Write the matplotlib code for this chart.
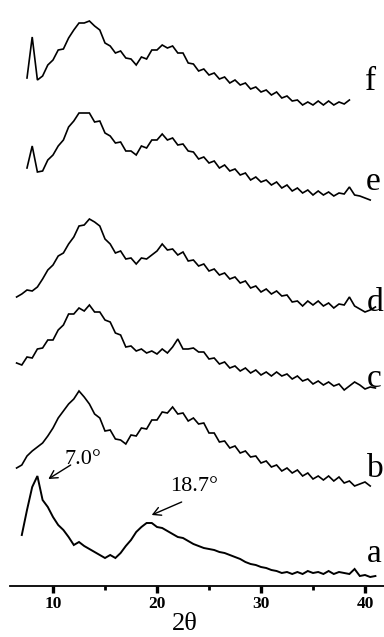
import numpy as np
import matplotlib
matplotlib.use("Agg")
import matplotlib.pyplot as plt

# 2-theta grid (degrees)
two_theta = [6.5, 7.0, 7.5, 8.0, 8.5, 9.0, 9.5, 10.0, 10.5, 11.0,
             11.5, 12.0, 12.5, 13.0, 13.5, 14.0, 14.5, 15.0, 15.5, 16.0,
             16.5, 17.0, 17.5, 18.0, 18.5, 19.0, 19.5, 20.0, 20.5, 21.0,
             21.5, 22.0, 22.5, 23.0, 23.5, 24.0, 24.5, 25.0, 25.5, 26.0,
             26.5, 27.0, 27.5, 28.0, 28.5, 29.0, 29.5, 30.0, 30.5, 31.0,
             31.5, 32.0, 32.5, 33.0, 33.5, 34.0, 34.5, 35.0, 35.5, 36.0,
             36.5, 37.0, 37.5, 38.0, 38.5, 39.0, 39.5, 40.0, 40.5, 41.0]

# intensities (a.u.) of each pattern
curve_a = [None, 51, 76, 99, 110, 86, 79, 69, 61, 56,
           49, 41, 44, 40, 37, 34, 31, 28, 31, 28,
           33, 40, 46, 54, 59, 63, 63, 59, 58, 55,
           52, 49, 48, 45, 42, 40, 38, 37, 36, 34,
           33, 31, 29, 27, 24, 22, 21, 19, 18, 16,
           15, 13, 14, 12, 14, 12, 15, 13, 14, 12,
           15, 12, 14, 13, 12, 17, 10, 11, 9, 10]
curve_b = [18, 21, 30, 35, 39, 43, 50, 58, 68, 75,
           82, 87, 95, 89, 82, 72, 68, 55, 56, 47,
           46, 42, 51, 50, 58, 57, 66, 66, 74, 73,
           79, 72, 73, 65, 68, 62, 63, 53, 53, 44,
           45, 38, 40, 33, 35, 29, 30, 23, 25, 19,
           21, 15, 18, 13, 16, 10, 13, 7, 10, 6,
           10, 5, 9, 3, 5, 0, 2, 4, 0, None]
curve_c = [33, 31, 39, 38, 47, 48, 56, 56, 66, 71,
           82, 82, 88, 85, 91, 84, 84, 76, 74, 63,
           61, 49, 50, 45, 47, 43, 45, 42, 47, 43,
           49, 57, 47, 47, 48, 44, 44, 37, 38, 32,
           34, 28, 30, 25, 28, 23, 26, 21, 24, 20,
           24, 20, 22, 17, 20, 15, 17, 12, 15, 11,
           14, 10, 12, 6, 10, 14, 11, 7, 9, 8]
curve_d = [19, 22, 26, 25, 29, 37, 46, 51, 60, 63,
           72, 79, 90, 91, 97, 94, 90, 77, 72, 63,
           65, 57, 58, 52, 58, 57, 61, 65, 72, 66,
           67, 61, 64, 55, 56, 50, 52, 45, 47, 41,
           43, 37, 39, 33, 35, 28, 30, 24, 27, 22,
           25, 20, 21, 14, 15, 10, 15, 11, 15, 10,
           13, 8, 12, 11, 19, 10, 7, 4, 6, 9]
curve_e = [None, None, 38, 60, 34, 35, 46, 51, 60, 66,
           79, 85, 93, 93, 93, 84, 85, 73, 70, 63,
           64, 55, 55, 51, 60, 58, 66, 66, 72, 66,
           68, 61, 62, 55, 54, 47, 49, 43, 45, 38,
           41, 35, 37, 31, 33, 26, 29, 24, 26, 21,
           24, 18, 21, 15, 18, 13, 16, 11, 15, 11,
           14, 10, 13, 12, 19, 11, 10, 8, 6, None]
curve_f = [None, None, 38, 79, 36, 40, 51, 56, 66, 67,
           78, 86, 93, 93, 95, 90, 86, 73, 70, 63,
           65, 58, 57, 51, 59, 57, 66, 66, 71, 68,
           70, 63, 63, 53, 52, 45, 47, 41, 43, 37,
           39, 33, 36, 31, 33, 27, 29, 24, 26, 21,
           24, 18, 20, 15, 16, 11, 14, 11, 15, 11,
           15, 11, 14, 12, 16, None, None, None, None, None]

labels = ["a", "b", "c", "d", "e", "f"]
peak_labels = ["7.0°", "18.7°"]
x_ticks = [10, 20, 30, 40]
x_minor = [15, 25, 35]

# ---- layout / style ----
series = [curve_a, curve_b, curve_c, curve_d, curve_e, curve_f]
offsets = [0, 100, 190, 270, 380, 470]
label_pos = [(40.2, 24), (40.2, 109), (40.2, 199), (40.2, 275), (40.1, 396), (40.0, 496)]

W, H = 384, 637
fig = plt.figure(figsize=(W / 100, H / 100), dpi=100)
ax = fig.add_axes([10 / W, 51 / H, 374 / W, 586 / H])
ax.set_xlim(10 + (10 - 53) / 10.4, 40 + (384 - 365) / 10.4)
ax.set_ylim(0, 586)

x = np.array(two_theta, dtype=float)
for i, (s, off) in enumerate(zip(series, offsets)):
    y = np.array(s, dtype=float) + off
    ax.plot(x, y, color="black", lw=1.4 if i == 0 else 1.2, solid_joinstyle="miter")

serif = "Liberation Serif"
for lab, (lx, ly) in zip(labels, label_pos):
    ax.text(lx, ly, lab, family=serif, fontsize=24, ha="left", va="baseline", color="black")

arrowprops = dict(arrowstyle="->,head_length=0.55,head_width=0.3", color="black", lw=1.0,
                  shrinkA=0, shrinkB=0)
ax.annotate("", xy=(9.55, 107), xytext=(11.7, 121), arrowprops=arrowprops)
ax.text(11.15, 122, peak_labels[0], family=serif, fontsize=16, ha="left", va="baseline")
ax.annotate("", xy=(19.49, 71), xytext=(22.37, 84), arrowprops=arrowprops)
ax.text(21.25, 95, peak_labels[1], family=serif, fontsize=16, ha="left", va="baseline")

for sp in ["left", "top", "right"]:
    ax.spines[sp].set_visible(False)
ax.spines["bottom"].set_linewidth(1.3)
ax.set_yticks([])
ax.set_xticks(x_ticks)
ax.set_xticks(x_minor, minor=True)
ax.set_xticklabels([str(t) for t in x_ticks], family=serif, fontweight="bold", fontsize=12.5)
ax.tick_params(axis="x", which="major", direction="out", length=5, width=2.4, pad=2)
ax.tick_params(axis="x", which="minor", direction="out", length=3, width=2.0)
ax.text(22.7, -38, "2θ", family=serif, fontsize=19, ha="center", va="center")

fig.savefig("out.png", dpi=100, facecolor="white")
